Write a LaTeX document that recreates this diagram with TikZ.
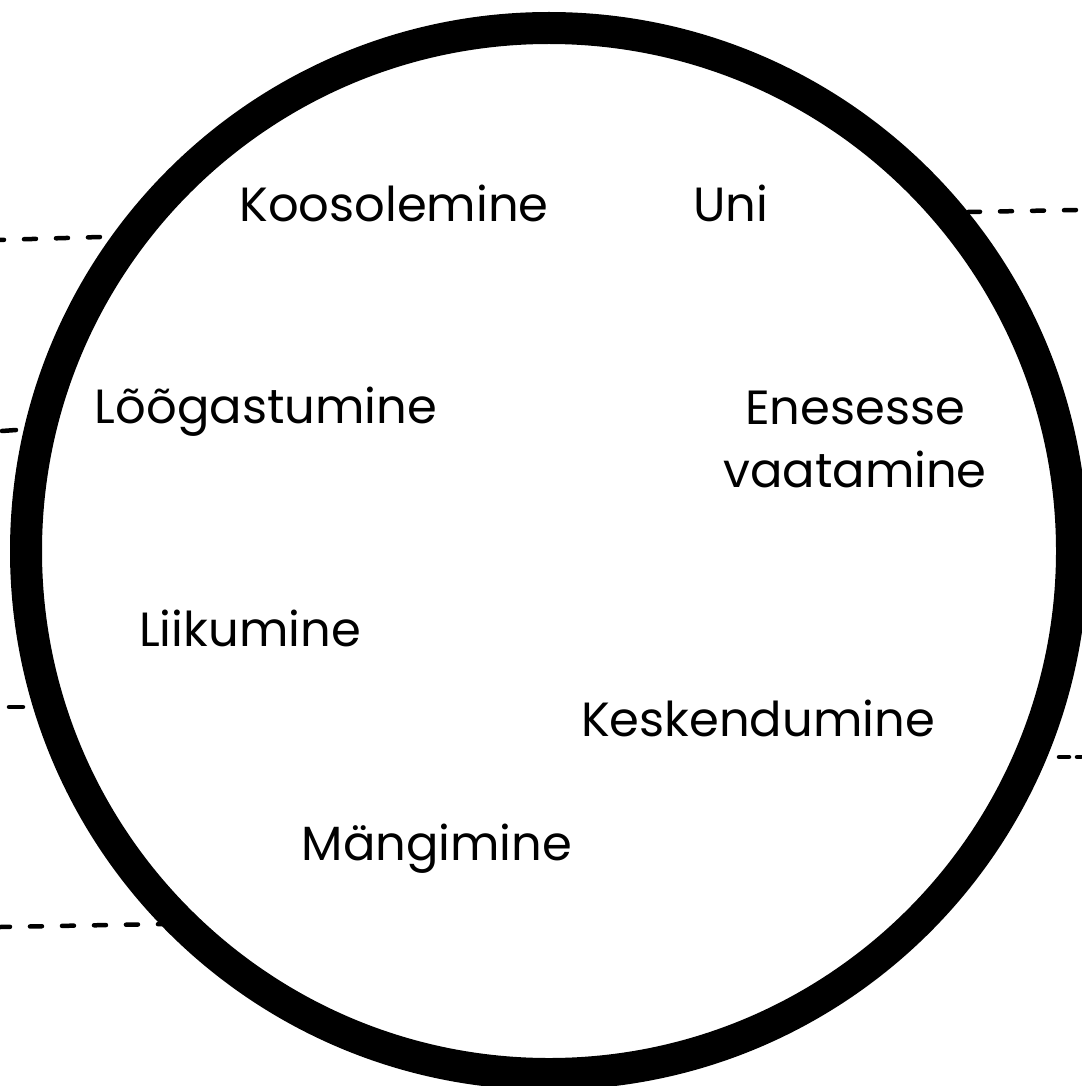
\documentclass[tikz,border=0pt]{standalone}
\usepackage{fontspec}
\setmainfont{Poppins}
\begin{document}
\begin{tikzpicture}[x=1pt,y=-1pt,
  lbl/.style={font=\fontsize{48}{63}\selectfont, anchor=base, inner sep=0pt, align=center},
  dashline/.style={line width=4.5pt, line cap=round, dash pattern=on 12pt off 20pt}]
\useasboundingbox[fill=white] (0,0) rectangle (1081,1086);
% dashed connector fragments
\coordinate (a1) at (-2,240); \coordinate (a2) at (100,237);
\coordinate (b1) at (2,431); \coordinate (b2) at (16,430);
\coordinate (c1) at (9,707); \coordinate (c2) at (23,707);
\coordinate (d1) at (0,927); \coordinate (d2) at (165,924);
\coordinate (e1) at (968,212); \coordinate (e2) at (1076,210);
\coordinate (f1) at (1059,757); \coordinate (f2) at (1081,757);
\draw[dashline, dash phase=6pt] (a1) -- (a2);
\draw[line width=4.5pt, line cap=round] (b1) -- (b2);
\draw[line width=4.5pt, line cap=round] (c1) -- (c2);
\draw[dashline, dash phase=2pt] (d1) -- (d2);
\draw[dashline] (e1) -- (e2);
\draw[line width=4.5pt, line cap=round, dash pattern=on 10pt off 8pt] (f1) -- (f2);
% circle
\coordinate (o) at (549,551);
\draw[line width=32pt] (o) circle[radius=523];
% labels
\node[lbl] (koos) at (394,222) {Koosolemine};
\node[lbl] (uni) at (731,222) {Uni};
\node[lbl] (loog) at (266,423) {Lõõgastumine};
\node[lbl] (enes) at (855,487) {Enesesse\\vaatamine};
\node[lbl] (liik) at (250,646) {Liikumine};
\node[lbl] (kesk) at (758,736) {Keskendumine};
\node[lbl] (mang) at (437,860) {Mängimine};
\end{tikzpicture}
\end{document}
